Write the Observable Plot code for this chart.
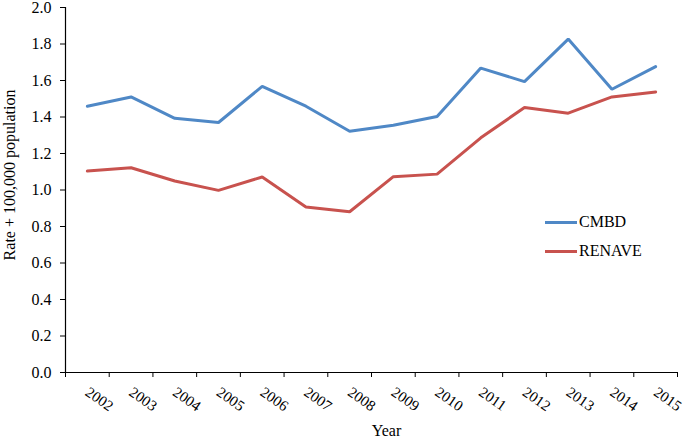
<!DOCTYPE html>
<html>
<head>
<meta charset="utf-8">
<script src="https://cdn.jsdelivr.net/npm/d3@7"></script>
<script src="https://cdn.jsdelivr.net/npm/@observablehq/plot@0.6"></script>
<style>
  html, body { margin: 0; padding: 0; background: #fff; }
  #wrap { position: relative; width: 685px; height: 438px; font-family: "Liberation Serif", "Times New Roman", serif; }
  .leg { position: absolute; left: 545px; font-size: 16px; color: #000; line-height: 16px; display: flex; align-items: center; }
  .leg span.sw { display: inline-block; width: 32px; height: 3px; margin-right: 2px; }
</style>
</head>
<body>
<div id="wrap"></div>
<script>
const years = [2002, 2003, 2004, 2005, 2006, 2007, 2008, 2009, 2010, 2011, 2012, 2013, 2014, 2015];
const cmbd = [1.459, 1.510, 1.393, 1.370, 1.568, 1.459, 1.322, 1.355, 1.403, 1.668, 1.594, 1.827, 1.552, 1.676];
const renave = [1.104, 1.122, 1.049, 0.998, 1.071, 0.907, 0.881, 1.073, 1.087, 1.286, 1.452, 1.421, 1.510, 1.537];
const seriesNames = ["CMBD", "RENAVE"];
const seriesColors = ["#4F88C6", "#C8524E"];
const yTicks = [0, 0.2, 0.4, 0.6, 0.8, 1.0, 1.2, 1.4, 1.6, 1.8, 2.0];
const yLabel = "Rate + 100,000 population";
const xLabel = "Year";

const data = years.flatMap((yr, i) => [
  {year: yr, rate: cmbd[i], series: seriesNames[0]},
  {year: yr, rate: renave[i], series: seriesNames[1]}
]);
const bounds = [...years.map(y => y - 0.5), years[years.length - 1] + 0.5];

const chart = Plot.plot({
  width: 685,
  height: 438,
  marginLeft: 65,
  marginRight: 8,
  marginTop: 7,
  marginBottom: 66,
  style: {fontFamily: "'Liberation Serif', 'Times New Roman', serif", fontSize: "16px", color: "#000", background: "#fff"},
  x: {type: "linear", domain: [bounds[0], bounds[bounds.length - 1]]},
  y: {domain: [0, 2]},
  color: {domain: seriesNames, range: seriesColors},
  marks: [
    Plot.axisY({ticks: yTicks, tickFormat: d3.format(".1f"), tickSize: 5, tickPadding: 9, label: null, fontSize: 16}),
    Plot.axisX({ticks: bounds, tickFormat: () => "", tickSize: 5, label: null}),
    Plot.ruleX([bounds[0]], {stroke: "#000", strokeWidth: 1.2}),
    Plot.ruleY([0], {stroke: "#000", strokeWidth: 1.2}),
    Plot.text(years, {x: d => d, text: d => String(d), frameAnchor: "bottom", rotate: 35, textAnchor: "start", lineAnchor: "bottom", dx: -3, dy: 22, fontSize: 15}),
    Plot.line(data, {x: "year", y: "rate", stroke: "series", strokeWidth: 3, strokeLinejoin: "miter"}),
    Plot.text([yLabel], {frameAnchor: "left", rotate: -90, textAnchor: "middle", lineAnchor: "bottom", dx: -51, dy: -15, fontSize: 16}),
    Plot.text([xLabel], {frameAnchor: "bottom", textAnchor: "middle", lineAnchor: "bottom", dx: 15, dy: 63, fontSize: 16})
  ]
});

const wrap = document.getElementById("wrap");
wrap.appendChild(chart);
const legTops = [214, 243];
seriesNames.forEach((name, i) => {
  const row = document.createElement("div");
  row.className = "leg";
  row.style.top = legTops[i] + "px";
  const sw = document.createElement("span");
  sw.className = "sw";
  sw.style.background = seriesColors[i];
  row.appendChild(sw);
  row.appendChild(document.createTextNode(name));
  wrap.appendChild(row);
});
</script>
</body>
</html>
